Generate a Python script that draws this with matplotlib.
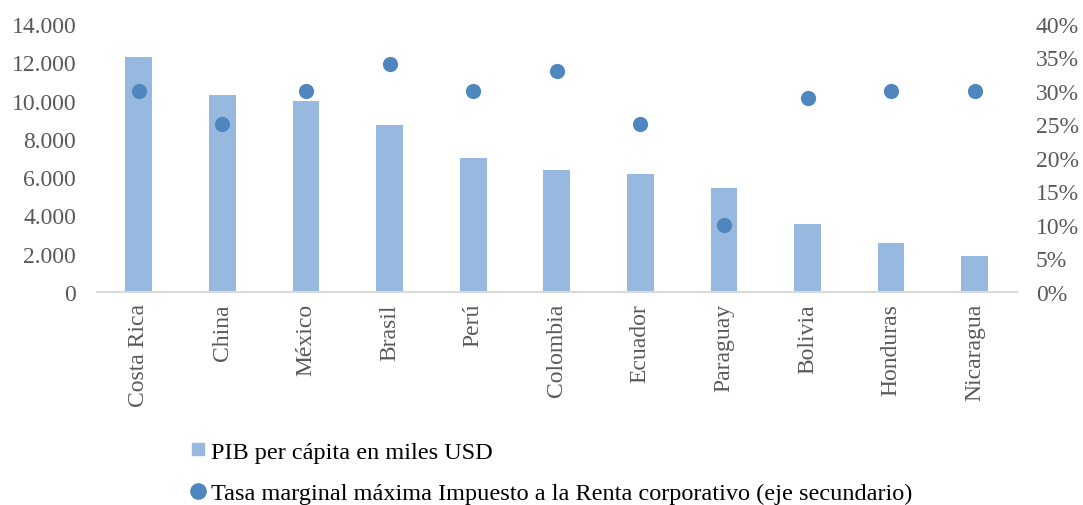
import matplotlib
matplotlib.use("Agg")
import matplotlib.pyplot as plt
from matplotlib.lines import Line2D
from matplotlib.ticker import FuncFormatter

paises = ["Costa Rica", "China", "México", "Brasil", "Perú", "Colombia",
          "Ecuador", "Paraguay", "Bolivia", "Honduras", "Nicaragua"]
pib = [12280, 10290, 9970, 8730, 7000, 6390, 6170, 5430, 3560, 2560, 1880]
tasa = [30, 25, 30, 34, 30, 33, 25, 10, 29, 30, 30]

BAR = "#97B9E0"
DOT = "#4F86BD"
TXT = "#595959"

plt.rcParams["font.family"] = ["Liberation Serif", "DejaVu Serif"]
plt.rcParams["font.size"] = 17

fig = plt.figure(figsize=(10.83, 5.06), dpi=100)
ax = fig.add_axes([0.0896, 0.421, 0.849, 0.5296])
ax2 = ax.twinx()

x = list(range(len(paises)))
ax.bar(x, pib, width=0.32, color=BAR, zorder=2)
ax2.scatter(x, tasa, s=120, color=DOT, zorder=3, linewidths=0)

ax.set_xlim(-0.5, len(paises) - 0.5)
ax.set_ylim(0, 14000)
ax.set_yticks(range(0, 14001, 2000))
ax.yaxis.set_major_formatter(FuncFormatter(lambda v, p: f"{int(v):,}".replace(",", ".")))
ax2.set_ylim(0, 40)
ax2.set_yticks(range(0, 41, 5))
ax2.yaxis.set_major_formatter(FuncFormatter(lambda v, p: f"{int(v)}%"))

ax.set_xticks(x)
ax.set_xticklabels(paises, rotation=90, color=TXT)
for a in (ax, ax2):
    a.tick_params(length=0, colors=TXT, labelsize=17)
    for s in ("top", "left", "right", "bottom"):
        a.spines[s].set_visible(False)
ax.spines["bottom"].set_visible(True)
ax.spines["bottom"].set_color("#D9D9D9")
ax.spines["bottom"].set_linewidth(1.5)
ax.tick_params(axis="y", pad=15)
ax.tick_params(axis="x", pad=8)
ax2.tick_params(axis="y", pad=14)

handles = [
    Line2D([], [], marker="s", linestyle="none", color=BAR, markersize=8.5),
    Line2D([], [], marker="o", linestyle="none", color=DOT, markersize=11),
]
labels = ["PIB per cápita en miles USD",
          "Tasa marginal máxima Impuesto a la Renta corporativo (eje secundario)"]
fig.legend(handles, labels, loc="upper left", bbox_to_anchor=(0.172, 0.127),
           frameon=False, handletextpad=0.0, handlelength=1.0, labelspacing=0.8,
           fontsize=17.5, labelcolor="black", borderaxespad=0, borderpad=0)

fig.savefig("out.png", dpi=100)
